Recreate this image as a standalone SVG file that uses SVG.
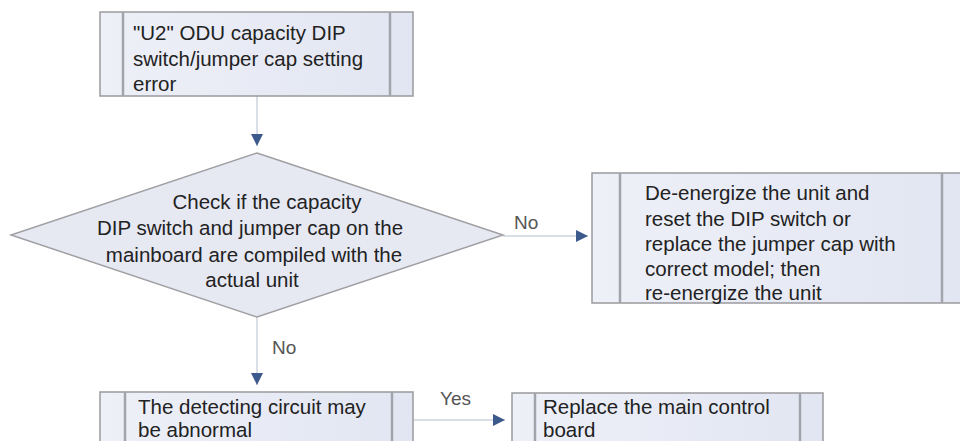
<svg xmlns="http://www.w3.org/2000/svg" width="960" height="441" viewBox="0 0 960 441">
<defs>
<linearGradient id="g" x1="0" y1="0" x2="1" y2="0">
<stop offset="0" stop-color="#eef0f8"/>
<stop offset="1" stop-color="#e2e6f2"/>
</linearGradient>
<marker id="arr" viewBox="0 0 10 10" refX="10" refY="5" markerWidth="12" markerHeight="12" markerUnits="userSpaceOnUse" orient="auto">
<path d="M0,0 L10,5 L0,10 Z" fill="#3d5a8c"/>
</marker>
<style>
.box{fill:url(#g);stroke:#9a9a9e;stroke-width:1.5}
.bar{stroke:#a2a4ac;stroke-width:2.5}
.dia{fill:#e6e8f2;stroke:#a0a0a4;stroke-width:1.5}
.t{font-family:"Liberation Sans",Arial,sans-serif;font-size:20.5px;fill:#222}
.lbl{font-family:"Liberation Sans",Arial,sans-serif;font-size:19px;fill:#555}
.c{fill:none;stroke:#b4bccc;stroke-width:1}
</style>
</defs>
<rect width="960" height="441" fill="#fff"/>
<g id="connectors">
<line class="c" x1="257" y1="96" x2="257" y2="146" marker-end="url(#arr)"/>
<line class="c" x1="503" y1="236" x2="588" y2="236" marker-end="url(#arr)"/>
<line class="c" x1="257" y1="317" x2="257" y2="385" marker-end="url(#arr)"/>
<line class="c" x1="413" y1="420" x2="505" y2="420" marker-end="url(#arr)"/>
<text class="lbl" x="514" y="229">No</text>
<text class="lbl" x="272" y="354">No</text>
<text class="lbl" x="440" y="405">Yes</text>
</g>
<g id="n1">
<rect class="box" x="100" y="12" width="313" height="84"/>
<line class="bar" x1="123" y1="12" x2="123" y2="96"/>
<line class="bar" x1="390" y1="12" x2="390" y2="96"/>
<text class="t" x="133" y="40">"U2" ODU capacity DIP</text>
<text class="t" x="133" y="66">switch/jumper cap setting</text>
<text class="t" x="133" y="91">error</text>
</g>
<g id="n2">
<polygon class="dia" points="257,153 503,235 257,317 11,235"/>
<text class="t" text-anchor="middle" x="267" y="209">Check if the capacity</text>
<text class="t" text-anchor="middle" x="250" y="235">DIP switch and jumper cap on the</text>
<text class="t" text-anchor="middle" x="254" y="262">mainboard are compiled with the</text>
<text class="t" text-anchor="middle" x="252" y="287">actual unit</text>
</g>
<g id="n3">
<rect class="box" x="592" y="173" width="372" height="130"/>
<line class="bar" x1="620" y1="173" x2="620" y2="303"/>
<line class="bar" x1="942" y1="173" x2="942" y2="303"/>
<text class="t" x="645" y="200">De-energize the unit and</text>
<text class="t" x="645" y="226">reset the DIP switch or</text>
<text class="t" x="645" y="251">replace the jumper cap with</text>
<text class="t" x="645" y="276">correct model; then</text>
<text class="t" x="645" y="300">re-energize the unit</text>
</g>
<g id="n4">
<rect class="box" x="100" y="392" width="313" height="70"/>
<line class="bar" x1="125" y1="392" x2="125" y2="462"/>
<line class="bar" x1="392" y1="392" x2="392" y2="462"/>
<text class="t" x="138" y="414">The detecting circuit may</text>
<text class="t" x="138" y="437">be abnormal</text>
</g>
<g id="n5">
<rect class="box" x="512" y="393" width="311" height="70"/>
<line class="bar" x1="535" y1="393" x2="535" y2="463"/>
<line class="bar" x1="800" y1="393" x2="800" y2="463"/>
<text class="t" x="543" y="414">Replace the main control</text>
<text class="t" x="543" y="437">board</text>
</g>
</svg>
